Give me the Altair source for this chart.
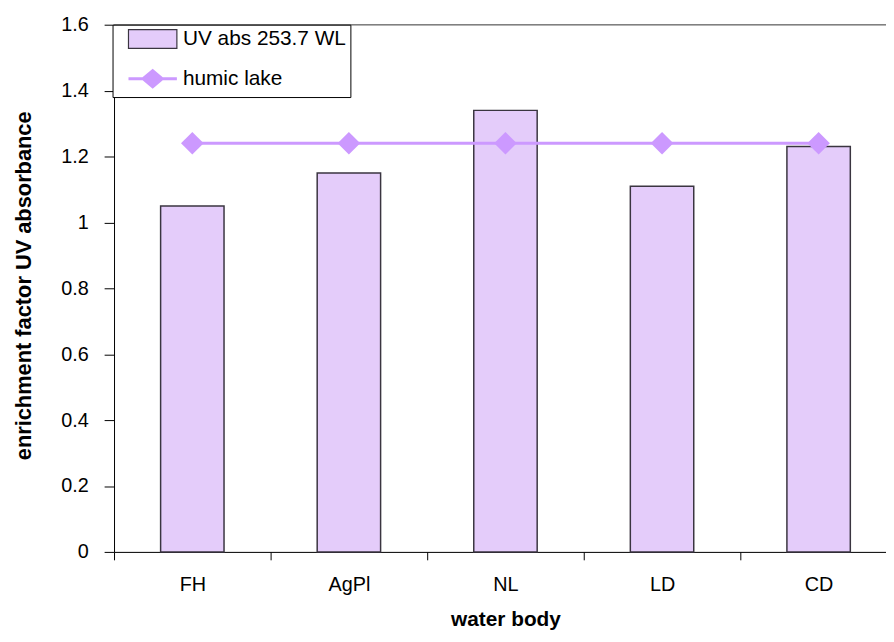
import altair as alt
import pandas as pd

# ---- data ----
categories = ["FH", "AgPl", "NL", "LD", "CD"]
uv_abs = [1.05, 1.15, 1.34, 1.11, 1.23]
humic_lake = [1.24, 1.24, 1.24, 1.24, 1.24]
series_names = ["UV abs 253.7 WL", "humic lake"]
y_ticks = [0, 0.2, 0.4, 0.6, 0.8, 1.0, 1.2, 1.4, 1.6]

bars_df = pd.DataFrame({"body": categories, "value": uv_abs, "series": series_names[0]})
line_df = pd.DataFrame({"body": categories, "value": humic_lake, "series": series_names[1]})
top_df = pd.DataFrame({"value": [y_ticks[-1]]})

FONT = "Liberation Sans"
BAR_FILL = "#E4CCFA"
BAR_STROKE = "#3a3540"
LINE_COLOR = "#CC99FF"

RECT_PATH = "M-1.32,-0.51H1.32V0.51H-1.32Z"
LINE_PATH = "M-1.32,0H1.32M-0.52,0L0,-0.44L0.52,0L0,0.44Z"
is_line = f"datum.value === '{series_names[1]}'"

x_enc = alt.X(
    "body:N",
    sort=categories,
    scale=alt.Scale(paddingInner=0, paddingOuter=0),
    axis=alt.Axis(
        title="water body",
        tickBand="extent",
        labelAngle=0,
        labelFont=FONT,
        labelFontSize=20,
        labelColor="black",
        labelPadding=15,
        tickSize=8,
        tickColor="black",
        domainColor="black",
        titleFont=FONT,
        titleFontSize=21,
        titleFontWeight="bold",
        titleColor="black",
        titleX=395,
        titleY=68,
        titleBaseline="middle",
        titleAlign="center",
    ),
)

y_enc = alt.Y(
    "value:Q",
    scale=alt.Scale(domain=[0, 1.6], nice=False),
    axis=alt.Axis(
        values=y_ticks,
        format="~g",
        title="enrichment factor UV absorbance",
        labelFont=FONT,
        labelFontSize=20,
        labelColor="black",
        labelPadding=16,
        tickSize=10,
        tickColor="black",
        domainColor="black",
        grid=False,
        titleFont=FONT,
        titleFontSize=22,
        titleFontWeight="bold",
        titleColor="black",
        titleAngle=-90,
        titleX=-91,
        titleY=263,
        titleAlign="center",
        titleBaseline="middle",
    ),
)

color_scale = alt.Scale(domain=series_names, range=[BAR_FILL, LINE_COLOR])

color = alt.Color(
    "series:N",
    scale=color_scale,
    legend=alt.Legend(
        title=None,
        orient="none",
        legendX=-1.5,
        legendY=0,
        strokeColor="black",
        fillColor="white",
        padding=4,
        rowPadding=13,
        symbolSize=1369,
        symbolOffset=26,
        labelOffset=20,
        labelLimit=400,
        labelFont=FONT,
        labelFontSize=21,
        labelColor="black",
        symbolType=alt.ExprRef(expr=f"{is_line} ? '{LINE_PATH}' : '{RECT_PATH}'"),
        symbolFillColor=alt.ExprRef(expr=f"{is_line} ? '{LINE_COLOR}' : '{BAR_FILL}'"),
        symbolStrokeColor=alt.ExprRef(expr=f"{is_line} ? '{LINE_COLOR}' : '{BAR_STROKE}'"),
        symbolStrokeWidth=alt.ExprRef(expr=f"{is_line} ? 3 : 1.2"),
        symbolOpacity=1,
    ),
)

bars = alt.Chart(bars_df).mark_bar(
    width=alt.RelativeBandSize(0.405), stroke=BAR_STROKE, strokeWidth=1.5
).encode(x=x_enc, y=y_enc, color=color)

line = alt.Chart(line_df).mark_line(strokeWidth=3).encode(
    x=alt.X("body:N", sort=categories),
    y="value:Q",
    stroke=alt.Stroke("series:N", scale=color_scale, legend=None),
)

points = alt.Chart(line_df).mark_point(
    filled=True, shape="diamond", size=520, opacity=1
).encode(x=alt.X("body:N", sort=categories), y="value:Q", color=color)

top_border = alt.Chart(top_df).mark_rule(color="#808080", strokeWidth=1.5).encode(
    y="value:Q", x=alt.value(0), x2=alt.value(800)
)

chart = (
    alt.layer(top_border, bars, line, points)
    .resolve_scale(stroke="independent")
    .properties(
        width=790,
        height=532,
        autosize=alt.AutoSizeParams(type="none"),
        padding={"left": 107, "top": 14, "right": -11, "bottom": 80},
    )
    .configure_view(stroke=None)
    .configure(background="white")
)

chart.save("out.html", embed_options={"renderer": "svg", "actions": False})
